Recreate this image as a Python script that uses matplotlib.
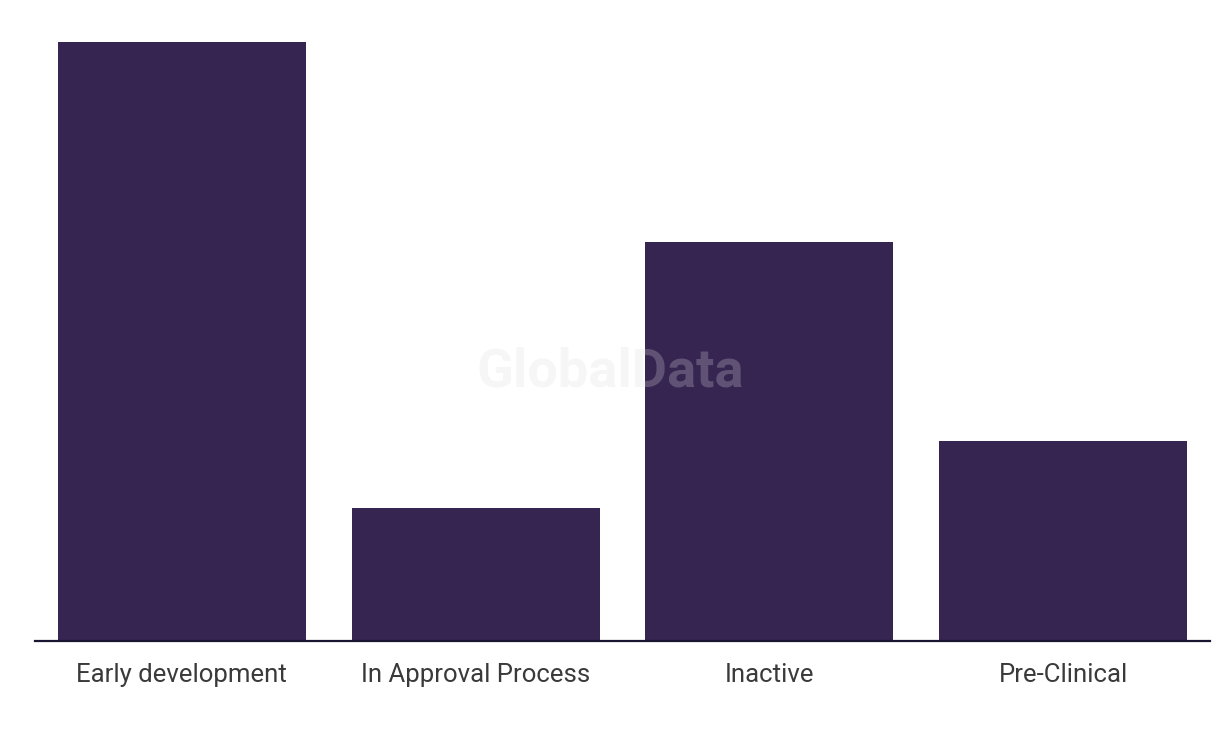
import matplotlib
matplotlib.use("Agg")
import matplotlib.pyplot as plt

stages = ["Early development", "In Approval Process", "Inactive", "Pre-Clinical"]
counts = [9, 2, 6, 3]

bar_color = "#362451"

fig = plt.figure(figsize=(12.2, 7.36), dpi=100)
ax = fig.add_axes([35 / 1220, 95 / 736, 1175 / 1220, 599 / 736])

ax.bar(range(len(stages)), counts, width=0.845, color=bar_color, zorder=2)
ax.set_xlim(-0.5, len(stages) - 0.5)
ax.set_ylim(0, max(counts))

for side in ["top", "right", "left"]:
    ax.spines[side].set_visible(False)
ax.spines["bottom"].set_color("#1a1530")
ax.spines["bottom"].set_linewidth(1.6)
ax.spines["bottom"].set_zorder(3)
ax.set_yticks([])
ax.set_xticks(range(len(stages)))
ax.set_xticklabels(stages, fontsize=18.5, color="#3a3a3a", family="Roboto")
ax.tick_params(axis="x", length=0, pad=16)

# faint watermark
fig.text(0.5, 0.495, "GlobalData", ha="center", va="center", fontsize=39,
         fontweight="bold", color="#dddddd", alpha=0.25, family="Roboto", zorder=5)

fig.savefig("out.png", dpi=100)
